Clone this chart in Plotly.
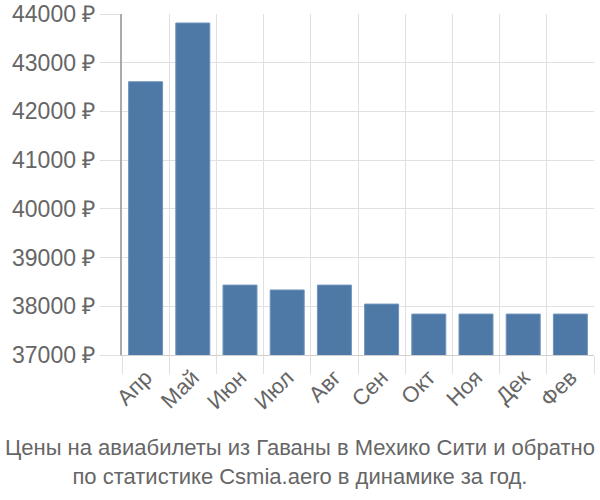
import plotly.graph_objects as go

months = ["Апр", "Май", "Июн", "Июл", "Авг", "Сен", "Окт", "Ноя", "Дек", "Фев"]
prices = [42610, 43815, 38435, 38335, 38435, 38045, 37840, 37840, 37840, 37840]
y_ticks = [37000, 38000, 39000, 40000, 41000, 42000, 43000, 44000]
y_tick_labels = [f"{v} ₽" for v in y_ticks]
title_text = "Цены на авиабилеты из Гаваны в Мехико Сити и обратно<br>по статистике Csmia.aero в динамике за год."

fig = go.Figure(go.Bar(
    x=months, y=prices,
    marker=dict(color="#4e79a7", line=dict(color="#6f93bb", width=1)),
    width=0.72,
))

fig.update_layout(
    width=600, height=500,
    margin=dict(l=122, r=6, t=14, b=145, autoexpand=False),
    paper_bgcolor="white", plot_bgcolor="white",
    font=dict(family="Liberation Sans, Arial, sans-serif", color="#666666"),
    showlegend=False,
    annotations=[dict(
        text=title_text, xref="paper", yref="paper",
        x=(300 - 122) / 472, y=(355 - 462) / 341,
        xanchor="center", yanchor="middle", showarrow=False,
        font=dict(size=22, color="#666666"), align="center",
    )],
)

fig.update_xaxes(
    type="category", tickson="boundaries",
    showgrid=True, gridcolor="#e0e0e0", gridwidth=1,
    ticks="outside", ticklen=18, tickcolor="#e0e0e0", tickwidth=1,
    tickangle=-45, tickfont=dict(size=22, color="#666666"),
    showline=True, linecolor="#d0d0d0", linewidth=1,
    automargin=False,
)
fig.update_yaxes(
    range=[37000, 44000], tickmode="array", tickvals=y_ticks, ticktext=y_tick_labels,
    showgrid=True, gridcolor="#e0e0e0", gridwidth=1,
    ticks="outside", ticklen=20, tickcolor="#e0e0e0",
    tickfont=dict(size=23, color="#666666"),
    showline=True, linecolor="#aaaaaa", linewidth=2,
    zeroline=False, automargin=False,
)

fig.write_html("out.html")
